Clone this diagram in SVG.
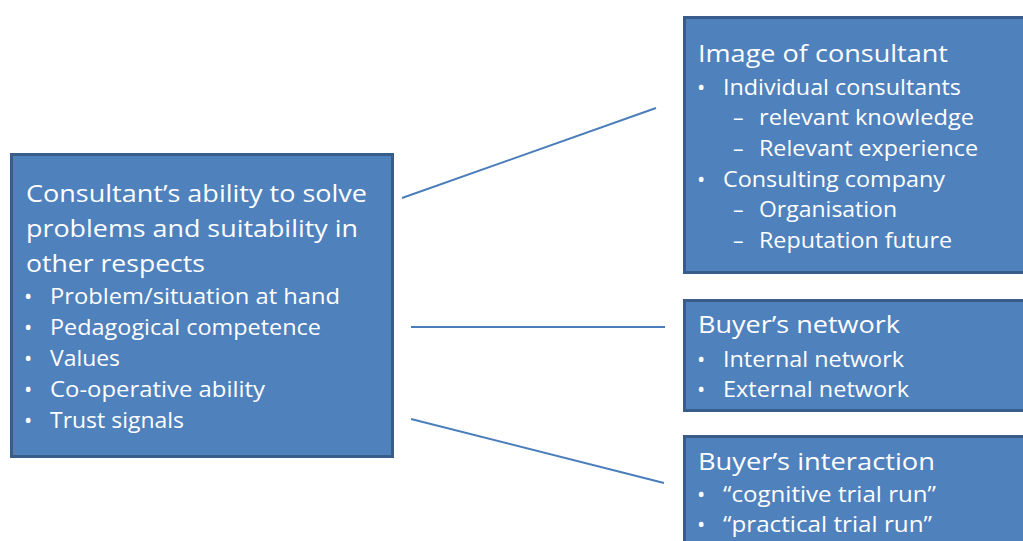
<svg xmlns="http://www.w3.org/2000/svg" width="1023" height="541" viewBox="0 0 1023 541">
<style>
.box{fill:#4F81BD;stroke:#385D8A;stroke-width:3}
.t{font-family:"Open Sans","Noto Sans",sans-serif;fill:#FFFFFF}
.h{font-size:24px}
.b{font-size:21px}
.d{font-size:22px}
.con{stroke:#4A7EBB;stroke-width:2;fill:none}
</style>
<rect width="1023" height="541" fill="#FFFFFF"/>
<g id="connectors">
<line class="con" x1="402" y1="198" x2="656" y2="108"/>
<line class="con" x1="411" y1="327" x2="665" y2="327"/>
<line class="con" x1="411" y1="419" x2="664" y2="483"/>
</g>
<g id="node-left">
<rect class="box" x="11.5" y="154.5" width="381" height="302"/>
<text class="t h" x="26" y="202" textLength="341" lengthAdjust="spacingAndGlyphs">Consultant’s ability to solve</text>
<text class="t h" x="26" y="237" textLength="332" lengthAdjust="spacingAndGlyphs">problems and suitability in</text>
<text class="t h" x="26" y="272" textLength="179" lengthAdjust="spacingAndGlyphs">other respects</text>
<g class="t b">
<text class="d" x="24" y="304">•</text><text x="50" y="304" textLength="290" lengthAdjust="spacingAndGlyphs">Problem/situation at hand</text>
<text class="d" x="24" y="335">•</text><text x="50" y="335" textLength="271" lengthAdjust="spacingAndGlyphs">Pedagogical competence</text>
<text class="d" x="24" y="366">•</text><text x="50" y="366" textLength="70" lengthAdjust="spacingAndGlyphs">Values</text>
<text class="d" x="24" y="397">•</text><text x="50" y="397" textLength="215" lengthAdjust="spacingAndGlyphs">Co-operative ability</text>
<text class="d" x="24" y="428">•</text><text x="50" y="428" textLength="134" lengthAdjust="spacingAndGlyphs">Trust signals</text>
</g>
</g>
<g id="node-image">
<rect class="box" x="684.5" y="17.5" width="400" height="255"/>
<text class="t h" x="698" y="62" textLength="250" lengthAdjust="spacingAndGlyphs">Image of consultant</text>
<g class="t b">
<text class="d" x="697" y="95">•</text><text x="723" y="95" textLength="238" lengthAdjust="spacingAndGlyphs">Individual consultants</text>
<text x="733" y="125">–</text><text x="759" y="125" textLength="215" lengthAdjust="spacingAndGlyphs">relevant knowledge</text>
<text x="733" y="156">–</text><text x="759" y="156" textLength="219" lengthAdjust="spacingAndGlyphs">Relevant experience</text>
<text class="d" x="697" y="187">•</text><text x="723" y="187" textLength="222" lengthAdjust="spacingAndGlyphs">Consulting company</text>
<text x="733" y="217">–</text><text x="759" y="217" textLength="138" lengthAdjust="spacingAndGlyphs">Organisation</text>
<text x="733" y="248">–</text><text x="759" y="248" textLength="193" lengthAdjust="spacingAndGlyphs">Reputation future</text>
</g>
</g>
<g id="node-network">
<rect class="box" x="684.5" y="300.5" width="400" height="110"/>
<text class="t h" x="698" y="333" textLength="202" lengthAdjust="spacingAndGlyphs">Buyer’s network</text>
<g class="t b">
<text class="d" x="697" y="367">•</text><text x="723" y="367" textLength="181" lengthAdjust="spacingAndGlyphs">Internal network</text>
<text class="d" x="697" y="397">•</text><text x="723" y="397" textLength="186" lengthAdjust="spacingAndGlyphs">External network</text>
</g>
</g>
<g id="node-interaction">
<rect class="box" x="684.5" y="436.5" width="400" height="120"/>
<text class="t h" x="698" y="470" textLength="237" lengthAdjust="spacingAndGlyphs">Buyer’s interaction</text>
<g class="t b">
<text class="d" x="697" y="502">•</text><text x="723" y="502" textLength="213" lengthAdjust="spacingAndGlyphs">“cognitive trial run”</text>
<text class="d" x="697" y="532">•</text><text x="723" y="532" textLength="209" lengthAdjust="spacingAndGlyphs">“practical trial run”</text>
</g>
</g>
</svg>
